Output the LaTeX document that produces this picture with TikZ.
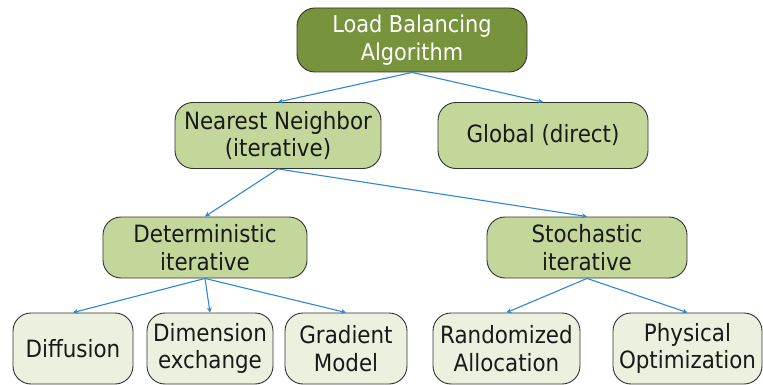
\documentclass[tikz,border=0pt]{standalone}
\usepackage{fontspec}
\setmainfont{DejaVu Sans Condensed}
\usetikzlibrary{arrows.meta}
\definecolor{topfill}{RGB}{119,147,60}
\definecolor{midfill}{RGB}{196,215,155}
\definecolor{lowfill}{RGB}{235,241,222}
\definecolor{edgecol}{RGB}{50,50,50}
\definecolor{arrowcol}{RGB}{46,135,210}
\tikzset{
  box/.style={draw=edgecol, line width=0.9pt, rounded corners=18pt, align=center,
    font=\fontsize{23.8}{27.5}\selectfont, inner sep=0pt, text=black!90},
  topbox/.style={box, fill=topfill, text=white, font=\fontsize{23.2}{27.5}\selectfont},
  midbox/.style={box, fill=midfill},
  lowbox/.style={box, fill=lowfill},
  conn/.style={draw=arrowcol, line width=1.1pt, -{Stealth[length=5pt,width=5pt]}},
}
\begin{document}
\begin{tikzpicture}[x=1pt,y=-1pt]
\useasboundingbox (0,0) rectangle (763,385);
\clip (0,0) rectangle (763,385);
\node[topbox, minimum width=230pt, minimum height=64pt] (lba) at (412,40) {Load Balancing\\Algorithm};
\node[midbox, minimum width=206pt, minimum height=66pt] (nn) at (278,135.5) {Nearest Neighbor\\(iterative)};
\node[midbox, minimum width=210pt, minimum height=66pt] (gl) at (543,135.5) {Global (direct)};
\node[midbox, minimum width=204pt, minimum height=61pt] (det) at (205,247.5) {Deterministic\\iterative};
\node[midbox, minimum width=200pt, minimum height=61pt] (sto) at (587,247.5) {Stochastic\\iterative};
\node[lowbox, minimum width=120pt, minimum height=71pt] (dif) at (73,348.5) {Diffusion};
\node[lowbox, minimum width=126pt, minimum height=71pt] (dim) at (210,348.5) {Dimension\\exchange};
\node[lowbox, minimum width=122pt, minimum height=71pt] (gra) at (346,348.5) {Gradient\\Model};
\node[lowbox, minimum width=147pt, minimum height=71pt] (ran) at (506.5,348.5) {Randomized\\Allocation};
\node[lowbox, minimum width=149pt, minimum height=71pt] (phy) at (687.5,348.5) {Physical\\Optimization};
\draw[conn] (lba.south) -- (nn.north);
\draw[conn] (lba.south) -- (gl.north);
\draw[conn] (nn.south) -- (det.north);
\draw[conn] (nn.south) -- (sto.north);
\draw[conn] (det.south) -- (dif.north);
\draw[conn] (det.south) -- (dim.north);
\draw[conn] (det.south) -- (gra.north);
\draw[conn] (sto.south) -- (ran.north);
\draw[conn] (sto.south) -- (phy.north);
\end{tikzpicture}
\end{document}
